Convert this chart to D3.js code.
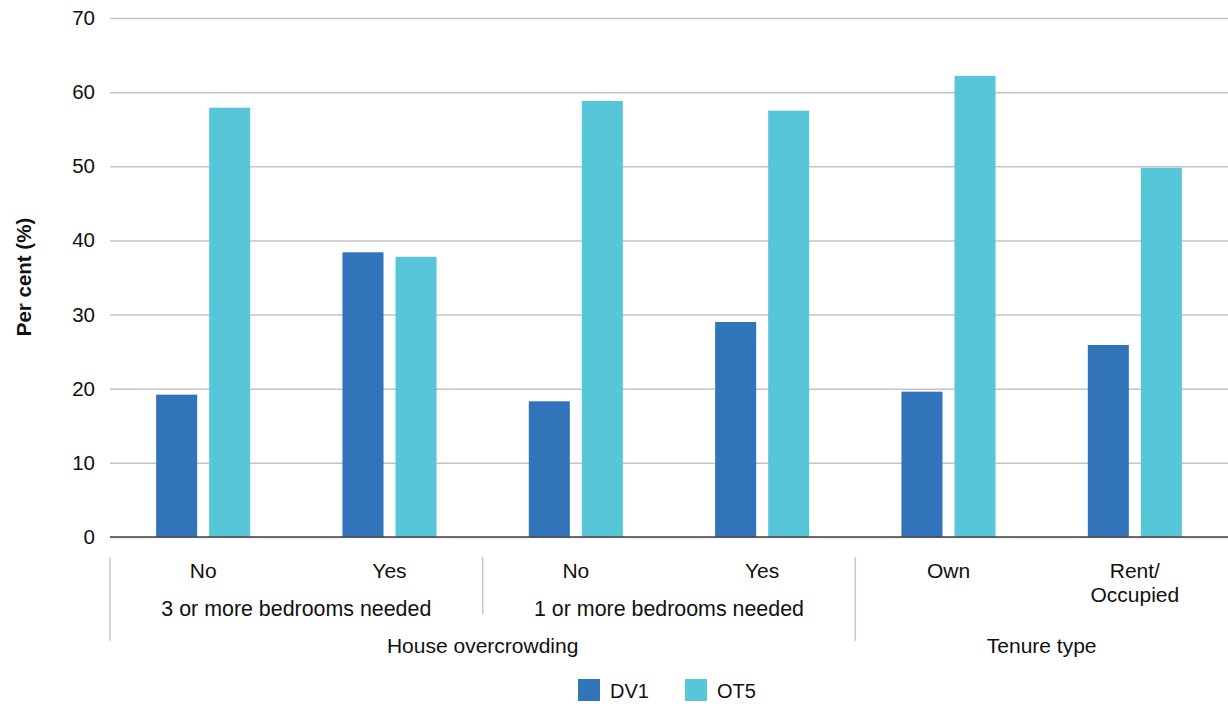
<!DOCTYPE html>
<html><head><meta charset="utf-8">
<script src="https://cdn.jsdelivr.net/npm/d3@7"></script>
<style>body{margin:0;background:#fff}svg{display:block}text{font-family:"Liberation Sans",Arial,sans-serif;fill:#111}</style>
</head><body><svg id="c" width="1228" height="704"></svg>
<script>
const categories = ["No","Yes","No","Yes","Own","Rent/\nOccupied"];
const subGroups = [{label:"3 or more bedrooms needed",from:0,to:2},{label:"1 or more bedrooms needed",from:2,to:4}];
const topGroups = [{label:"House overcrowding",from:0,to:4},{label:"Tenure type",from:4,to:6}];
const seriesNames = ["DV1","OT5"];
const dv1 = [19.2,38.4,18.3,29.0,19.6,25.9];
const ot5 = [57.9,37.8,58.8,57.5,62.2,49.8];
const yTicks = [0,10,20,30,40,50,60,70];
const colors = ["#3174b9","#57c6d9"];

const svg = d3.select("#c");
const L=110,R=1228,T=18,B=537;
const x = d3.scaleBand().domain(d3.range(categories.length)).range([L,R]);
const xs = d3.scaleBand().domain([0,1]).range([0,x.bandwidth()]).paddingInner(0.226).paddingOuter(0.87);
const y = d3.scaleLinear().domain([0,70]).range([B,T]);

// grid
const ya = svg.append("g").attr("transform",`translate(${L},0)`)
  .call(d3.axisLeft(y).tickValues(yTicks).tickSize(-(R-L)).tickPadding(15));
ya.select(".domain").remove();
ya.selectAll(".tick line").attr("stroke","#c4c4c4").attr("stroke-width",1.5);
ya.selectAll(".tick text").attr("font-size",20.5).attr("fill","#111");

// bars
const data = [dv1,ot5];
data.forEach((vals,si)=>{
  svg.append("g").selectAll("rect").data(vals).join("rect")
    .attr("x",(d,i)=>x(i)+xs(si)).attr("width",xs.bandwidth())
    .attr("y",d=>y(d)).attr("height",d=>B-y(d)).attr("fill",colors[si]);
});

// baseline
svg.append("line").attr("x1",L).attr("x2",R).attr("y1",B).attr("y2",B).attr("stroke","#444").attr("stroke-width",1.5);

// category labels
categories.forEach((c,i)=>{
  const lines=c.split("\n");
  const t=svg.append("text").attr("x",x(i)+x.bandwidth()/2).attr("y",578).attr("text-anchor","middle").attr("font-size",21);
  lines.forEach((ln,k)=>t.append("tspan").attr("x",x(i)+x.bandwidth()/2).attr("dy",k?24:0).text(ln));
});
subGroups.forEach(g=>{
  svg.append("text").attr("x",(x(g.from)+x(g.to-1)+x.bandwidth())/2).attr("y",616).attr("text-anchor","middle").attr("font-size",21.4).text(g.label);
});
topGroups.forEach(g=>{
  svg.append("text").attr("x",(x(g.from)+x(g.to-1)+x.bandwidth())/2).attr("y",653).attr("text-anchor","middle").attr("font-size",21).text(g.label);
});
// separators
const sep=(xx,y2)=>svg.append("line").attr("x1",xx).attr("x2",xx).attr("y1",557).attr("y2",y2).attr("stroke","#c8c8c8").attr("stroke-width",1.5);
sep(x(0),641); sep(x(2),614); sep(x(4),641);

// y title
svg.append("text").attr("transform","translate(31,277) rotate(-90)").attr("text-anchor","middle").attr("font-size",20.5).attr("font-weight","bold").text("Per cent (%)");

// legend
const lx=[578,685];
seriesNames.forEach((s,i)=>{
  svg.append("rect").attr("x",lx[i]).attr("y",679).attr("width",22).attr("height",22).attr("fill",colors[i]);
  svg.append("text").attr("x",lx[i]+32).attr("y",698).attr("font-size",20).text(s);
});
</script></body></html>
